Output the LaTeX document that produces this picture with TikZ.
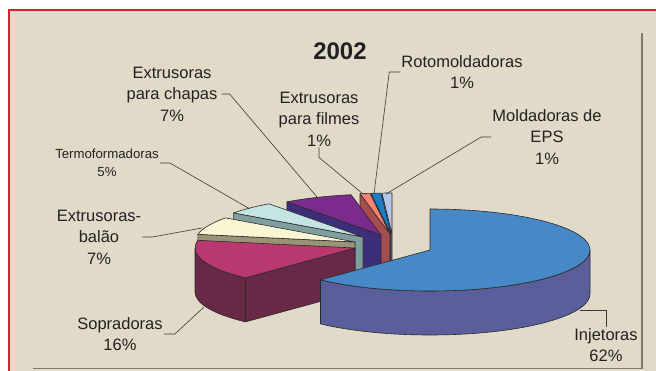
\documentclass[tikz,border=0pt]{standalone}
\usepackage{fontspec}
\setmainfont{Liberation Sans}
\definecolor{bgc}{HTML}{E1DAC8}
\definecolor{redc}{HTML}{D9202E}
\definecolor{framec}{HTML}{7D776E}
\definecolor{edgec}{HTML}{2A2A2A}
\definecolor{leadc}{HTML}{3A3A3A}
\definecolor{txtc}{HTML}{222222}
\definecolor{epsT}{HTML}{B4C6E9}\definecolor{epsS}{HTML}{7F8FBF}
\definecolor{rotT}{HTML}{1E7DC8}\definecolor{rotS}{HTML}{1F4F8F}
\definecolor{filT}{HTML}{F3836F}\definecolor{filS}{HTML}{A64D4F}
\definecolor{chaT}{HTML}{7B2B8B}\definecolor{chaS}{HTML}{3D2E7A}
\definecolor{terT}{HTML}{C5E5E2}\definecolor{terS}{HTML}{7F9E9D}
\definecolor{balT}{HTML}{FAF5D3}\definecolor{balS}{HTML}{9A9476}
\definecolor{sopT}{HTML}{B8386F}\definecolor{sopS}{HTML}{682946}
\definecolor{injT}{HTML}{4788C7}\definecolor{injS}{HTML}{5A5F9B}
\tikzset{
  face/.style={draw=edgec, line width=0.6pt, line join=round},
  lbl/.style={text=txtc, align=center, inner sep=1pt, font=\fontsize{16.5}{21.5}\selectfont},
  lead/.style={draw=leadc, line width=0.6pt},
}
\newcommand{\PieTop}[3]{\filldraw[face, fill=#3] (0,0) -- (#1:160pt and 41pt) arc[start angle=#1, end angle=#2, x radius=160pt, y radius=41pt] -- cycle;}
\newcommand{\PieRad}[2]{\filldraw[face, fill=#2] (0,0) -- (#1:160pt and 41pt) -- ++(0,-44) -- (0,-44) -- cycle;}
\newcommand{\PieCurv}[3]{\filldraw[face, fill=#3] (#1:160pt and 41pt) arc[start angle=#1, end angle=#2, x radius=160pt, y radius=41pt] -- ++(0,-44) arc[start angle=#2, end angle=#1, x radius=160pt, y radius=41pt] -- cycle;}
\begin{document}
\begin{tikzpicture}[x=1pt,y=1pt]
\useasboundingbox (0,0) rectangle (656,-371);
\fill[white] (0,0) rectangle (656,-371);
\fill[bgc] (9,-10) rectangle (656,-371);
\draw[redc, line width=1.3pt] (9,-371) -- (9,-10) -- (656,-10);
\draw[framec, line width=1.5pt] (642,-33) -- (642,-368.5) -- (33,-368.5);

% slices, back to front
\begin{scope}[shift={(392,-234)}]
  \PieRad{93.6}{epsS} \PieTop{90}{93.6}{epsT}
\end{scope}
\begin{scope}[shift={(391,-234)}]
  \PieRad{97.2}{rotS} \PieTop{93.6}{97.2}{rotT}
\end{scope}
\begin{scope}[shift={(390,-234)}]
  \PieRad{100.8}{filS} \PieTop{97.2}{100.8}{filT}
\end{scope}
\begin{scope}[shift={(381,-235)}]
  \PieRad{126}{chaS} \PieTop{100.8}{126}{chaT}
\end{scope}
\begin{scope}[shift={(363,-237)}]
  \PieRad{144}{terS} \PieTop{126}{144}{terT}
\end{scope}
\begin{scope}[shift={(355,-242)}]
  \PieRad{169.2}{balS} \PieTop{144}{169.2}{balT}
\end{scope}
\begin{scope}[shift={(355,-248)}]
  \PieRad{226.8}{sopS} \PieCurv{180}{226.8}{sopS} \PieTop{169.2}{226.8}{sopT}
\end{scope}
\begin{scope}[shift={(430,-250)}]
  \PieCurv{226.8}{360}{injS} \PieTop{226.8}{450}{injT}
\end{scope}

% leader end points on the slices
\coordinate (pChapas) at (317,-197);
\coordinate (pFilmes) at (363,-194);
\coordinate (pRoto) at (374,-194);
\coordinate (pEPS) at (386,-194);
\coordinate (pTermo) at (250,-209);
\coordinate (pBalao) at (202,-228);
\coordinate (pSopr) at (204,-307);
\coordinate (pInj) at (580,-310);

% labels
\node[text=txtc, font=\fontsize{24}{24}\selectfont\bfseries] (title) at (340,-51) {2002};
\node[lbl] (chapas) at (172,-94) {Extrusoras\\para chapas\\7\%};
\node[lbl] (filmes) at (319,-119) {Extrusoras\\para filmes\\1\%};
\node[lbl] (roto) at (462,-72) {Rotomoldadoras\\1\%};
\node[lbl] (eps) at (547,-137) {Moldadoras de\\EPS\\1\%};
\node[lbl, font=\fontsize{13.2}{18}\selectfont] (termo) at (107,-163) {Termoformadoras\\5\%};
\node[lbl] (balao) at (99,-237) {Extrusoras-\\balão\\7\%};
\node[lbl] (sopr) at (120,-334) {Sopradoras\\16\%};
\node[lbl] (inj) at (606,-345) {Injetoras\\62\%};

% leaders
\draw[lead] ([xshift=3pt]chapas.east) -- ++(8,0) -- (pChapas);
\draw[lead] (filmes.south) -- ++(0,-10) -- (pFilmes);
\draw[lead] (roto.west) -- ++(-11,0) -- (pRoto);
\draw[lead] (eps.west) -- ++(-10,0) -- (pEPS);
\draw[lead] (termo.east) -- ++(10,0) -- (pTermo);
\draw[lead] (balao.east) -- ++(10,0) -- (pBalao);
\draw[lead] (sopr.east) -- ++(11,0) -- (pSopr);
\draw[lead] (inj.north) |- (pInj);
\end{tikzpicture}
\end{document}
